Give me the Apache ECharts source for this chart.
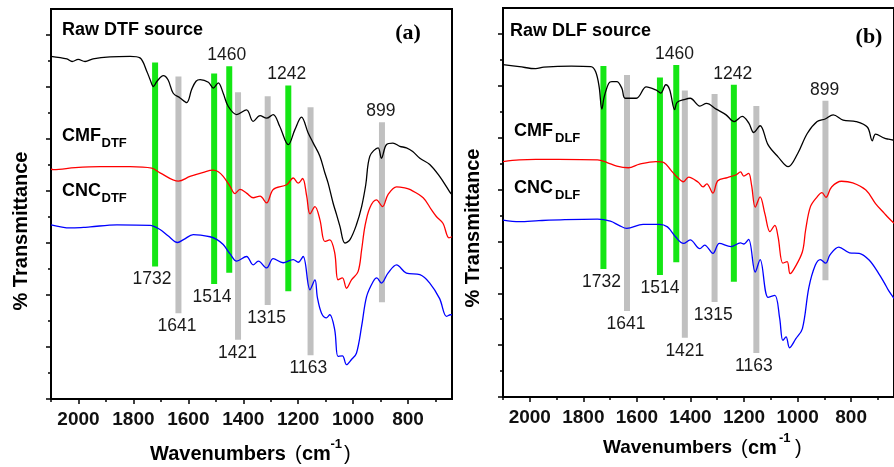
<!DOCTYPE html>
<html>
<head>
<meta charset="utf-8">
<script src="https://cdn.jsdelivr.net/npm/echarts@6/dist/echarts.min.js"></script>
<style>
  html, body { margin: 0; padding: 0; background: #fff; }
  #chart { width: 894px; height: 467px; }
</style>
</head>
<body>
<div id="chart"></div>
<script>
// axis ticks (wavenumber, cm-1) and transmittance ticks (arbitrary units)
const xMajor = [2000, 1800, 1600, 1400, 1200, 1000, 800]
const xMinor = [2100, 1900, 1700, 1500, 1300, 1100, 900, 700]
const yMajor = [0, 1, 2, 3, 4, 5, 6, 7]
const yMinor = [0.5, 1.5, 2.5, 3.5, 4.5, 5.5, 6.5]

// panel (a) - DTF
const rawDtfWn = [2100, 2042, 2023, 2001, 1976, 1947, 1885, 1812, 1776, 1751, 1739, 1727, 1714, 1691, 1674, 1655, 1630, 1606, 1588, 1572, 1557, 1527, 1509, 1491, 1473, 1455, 1424, 1388, 1364, 1339, 1315, 1291, 1267, 1236, 1212, 1188, 1164, 1145, 1121, 1103, 1091, 1073, 1060, 1048, 1030, 1012, 988, 969, 954, 939, 909, 897, 879, 855, 830, 806, 783, 757, 721, 685, 649, 640]
const rawDtfT = [6.59, 6.54, 6.49, 6.53, 6.49, 6.54, 6.58, 6.59, 6.56, 6.30, 6.14, 6.01, 6.11, 6.22, 6.14, 5.88, 5.79, 5.70, 5.95, 6.11, 6.14, 6.09, 5.98, 6.08, 5.88, 5.63, 5.47, 5.56, 5.34, 5.45, 5.40, 5.47, 5.24, 4.89, 5.18, 5.42, 5.12, 4.92, 4.67, 4.35, 4.15, 3.77, 3.54, 3.32, 3.00, 3.06, 3.35, 3.70, 4.12, 4.67, 4.83, 4.63, 4.89, 4.92, 4.86, 4.83, 4.76, 4.63, 4.51, 4.28, 3.99, 3.93]

const cmfDtfWn = [2100, 2091, 2012, 1921, 1812, 1733, 1703, 1636, 1594, 1545, 1510, 1491, 1473, 1448, 1430, 1412, 1388, 1364, 1339, 1315, 1291, 1242, 1218, 1200, 1184, 1169, 1157, 1139, 1121, 1103, 1085, 1067, 1055, 1039, 1024, 1006, 982, 969, 957, 939, 915, 893, 873, 842, 812, 794, 745, 715, 697, 673, 651, 640]
const cmfDtfT = [4.42, 4.41, 4.45, 4.47, 4.47, 4.44, 4.35, 4.19, 4.28, 4.36, 4.40, 4.37, 4.28, 4.09, 3.95, 4.03, 3.96, 3.87, 3.90, 3.77, 4.03, 4.12, 4.25, 4.15, 4.24, 3.90, 3.56, 3.70, 3.45, 3.03, 3.06, 2.81, 2.29, 2.33, 2.13, 2.29, 2.45, 2.87, 3.32, 3.68, 3.83, 3.70, 3.93, 4.08, 4.06, 4.03, 3.87, 3.64, 3.51, 3.38, 3.10, 3.12]

const cncDtfWn = [2100, 2030, 1982, 1957, 1860, 1739, 1703, 1674, 1639, 1616, 1582, 1521, 1497, 1473, 1448, 1424, 1388, 1364, 1345, 1315, 1291, 1255, 1218, 1200, 1182, 1157, 1139, 1130, 1115, 1097, 1085, 1067, 1055, 1039, 1024, 1006, 988, 969, 951, 927, 914, 897, 873, 842, 806, 757, 721, 685, 660, 645, 640]
const cncDtfT = [3.35, 3.29, 3.30, 3.31, 3.35, 3.34, 3.26, 3.14, 3.01, 3.07, 3.16, 3.12, 3.07, 2.97, 2.79, 2.65, 2.74, 2.58, 2.65, 2.52, 2.70, 2.62, 2.68, 2.63, 2.74, 2.10, 2.29, 1.95, 1.65, 1.56, 1.62, 1.33, 0.82, 0.83, 0.66, 0.76, 0.88, 1.40, 1.97, 2.26, 2.33, 2.23, 2.42, 2.58, 2.42, 2.39, 2.23, 1.93, 1.59, 1.62, 1.62]

// panel (b) - DLF
const rawDlfWn = [2100, 2039, 1978, 1948, 1845, 1772, 1754, 1741, 1731, 1722, 1705, 1693, 1675, 1656, 1644, 1602, 1565, 1529, 1511, 1492, 1478, 1459, 1450, 1420, 1401, 1365, 1340, 1304, 1267, 1237, 1207, 1182, 1164, 1140, 1110, 1073, 1035, 1000, 964, 927, 897, 867, 830, 782, 739, 721, 709, 676, 660, 640]
const rawDlfT = [6.41, 6.37, 6.33, 6.36, 6.38, 6.37, 6.27, 5.98, 5.55, 5.79, 6.05, 6.08, 6.08, 5.95, 5.76, 5.76, 5.98, 5.92, 5.86, 6.02, 5.93, 5.54, 5.68, 5.74, 5.76, 5.61, 5.66, 5.55, 5.44, 5.31, 5.41, 5.28, 5.10, 5.23, 4.86, 4.63, 4.44, 4.69, 5.08, 5.31, 5.36, 5.44, 5.34, 5.31, 5.20, 4.94, 5.07, 4.99, 4.97, 4.95]

const cmfDlfWn = [2100, 2039, 1978, 1893, 1747, 1711, 1675, 1632, 1590, 1529, 1499, 1474, 1450, 1426, 1407, 1371, 1353, 1339, 1316, 1298, 1262, 1231, 1213, 1201, 1183, 1172, 1158, 1140, 1122, 1103, 1085, 1073, 1055, 1039, 1028, 1012, 982, 970, 952, 927, 909, 894, 873, 836, 794, 745, 709, 676, 660, 640]
const cmfDlfT = [4.54, 4.57, 4.58, 4.58, 4.57, 4.52, 4.45, 4.42, 4.49, 4.54, 4.52, 4.38, 4.24, 4.15, 4.24, 4.14, 4.05, 4.11, 3.93, 4.17, 4.23, 4.28, 4.34, 4.26, 4.31, 4.09, 3.66, 3.86, 3.53, 3.19, 3.31, 3.09, 2.58, 2.61, 2.38, 2.48, 2.80, 3.22, 3.67, 3.86, 3.94, 3.85, 4.05, 4.16, 4.13, 3.99, 3.73, 3.54, 3.45, 3.35]

const cncDlfWn = [2100, 2039, 1966, 1869, 1747, 1699, 1667, 1638, 1577, 1517, 1486, 1456, 1426, 1401, 1365, 1347, 1316, 1292, 1249, 1213, 1201, 1183, 1158, 1140, 1110, 1085, 1067, 1055, 1043, 1030, 1007, 982, 958, 934, 915, 895, 879, 846, 806, 770, 733, 697, 676, 660, 640]
const cncDlfT = [3.41, 3.38, 3.40, 3.42, 3.43, 3.39, 3.31, 3.25, 3.33, 3.33, 3.28, 3.09, 2.96, 3.03, 2.86, 2.93, 2.77, 2.96, 2.90, 2.97, 2.95, 3.04, 2.41, 2.65, 1.92, 1.96, 1.52, 1.09, 1.16, 0.95, 1.12, 1.32, 2.11, 2.54, 2.65, 2.58, 2.74, 2.89, 2.78, 2.77, 2.64, 2.38, 2.20, 2.05, 1.90]

// marked bands: nominal label, drawn position, top and bottom of each bar
const peakLabels = [1732, 1641, 1514, 1460, 1421, 1315, 1242, 1163, 899]
const greenPeaks = [1732, 1514, 1460, 1242]
const labelAbove = [1460, 1242, 899]
const peakPosA = [1721, 1636, 1506, 1451, 1419, 1311, 1236, 1155, 895]
const peakTopA = [6.47, 6.20, 6.26, 6.40, 5.90, 5.82, 6.03, 5.61, 5.32]
const peakBotA = [2.55, 1.65, 2.21, 2.43, 1.14, 1.81, 2.07, 0.84, 1.86]
const peakPosB = [1725, 1637, 1514, 1453, 1421, 1310, 1238, 1154, 896]
const peakTopB = [6.38, 6.21, 6.16, 6.40, 5.91, 5.84, 6.02, 5.61, 5.71]
const peakBotB = [2.47, 1.66, 2.35, 2.60, 1.14, 1.83, 2.22, 0.85, 2.25]

const FONT = '"Liberation Sans", Arial, sans-serif'

const zip = (a, b) => a.map((v, i) => [v, b[i]])

function xAxes(grid) {
  const base = { type: 'value', gridIndex: grid, min: 640, max: 2100, inverse: true, position: 'bottom', splitLine: { show: false } }
  return [
    {
      ...base,
      axisLine: { show: true, onZero: false, lineStyle: { color: '#000', width: 2 } },
      axisTick: { show: true, customValues: xMajor, length: 5, lineStyle: { color: '#000', width: 1.5 } },
      axisLabel: {
        customValues: xMajor, margin: 11, color: '#111', fontWeight: 'bold', fontSize: 19, fontFamily: FONT,
        formatter: v => String(v)
      }
    },
    {
      ...base,
      axisLine: { show: false, onZero: false },
      axisTick: { show: true, customValues: xMinor, length: 3, lineStyle: { color: '#000', width: 1.5 } },
      axisLabel: { show: false }
    }
  ]
}

function yAxes(grid) {
  const base = { type: 'value', gridIndex: grid, min: 0, max: 7.5, position: 'left', splitLine: { show: false } }
  return [
    {
      ...base,
      axisLine: { show: true, onZero: false, lineStyle: { color: '#000', width: 2 } },
      axisTick: { show: true, customValues: yMajor, length: 5, lineStyle: { color: '#000', width: 1.5 } },
      axisLabel: { show: false }
    },
    {
      ...base,
      axisLine: { show: false, onZero: false },
      axisTick: { show: true, customValues: yMinor, length: 3, lineStyle: { color: '#000', width: 1.5 } },
      axisLabel: { show: false }
    }
  ]
}

function peakRenderer(params, api) {
  const nominal = peakLabels[params.dataIndex]
  const top = api.coord([api.value(0), api.value(1)])
  const bot = api.coord([api.value(0), api.value(2)])
  const lx = api.coord([nominal, 0])[0]
  const green = greenPeaks.includes(nominal)
  const above = labelAbove.includes(nominal)
  return {
    type: 'group',
    children: [
      {
        type: 'rect',
        shape: { x: top[0] - 3, y: top[1], width: 6, height: bot[1] - top[1] },
        style: { fill: green ? '#14e614' : '#c0c0c0' }
      },
      {
        type: 'text',
        x: lx,
        y: above ? top[1] - 2 : bot[1] + 4,
        style: {
          text: String(nominal),
          textAlign: 'center',
          textVerticalAlign: above ? 'bottom' : 'top',
          font: '17.5px ' + FONT,
          fill: '#1a1a1a'
        }
      }
    ]
  }
}

function line(data, color, xi, yi) {
  return {
    type: 'line', data, xAxisIndex: xi, yAxisIndex: yi, z: 3,
    showSymbol: false, smooth: 0.35, silent: true,
    lineStyle: { color, width: 1.3 }
  }
}

function peaks(pos, top, bot, xi, yi) {
  return {
    type: 'custom', xAxisIndex: xi, yAxisIndex: yi, z: 1, silent: true,
    renderItem: peakRenderer,
    data: pos.map((p, i) => [p, top[i], bot[i]])
  }
}

function txt(x, y, text, font, extra) {
  return {
    type: 'text', x, y, silent: true, ...(extra || {}),
    style: { text, font, fill: '#000', textAlign: 'left', textVerticalAlign: 'middle', ...((extra && extra.style) || {}) }
  }
}

const B18 = 'bold 18px ' + FONT
const B13 = 'bold 13px ' + FONT
const B20 = 'bold 20px ' + FONT
const R20 = '20px ' + FONT
const SERIF = 'bold 22px "Liberation Serif", "Times New Roman", serif'

const chart = echarts.init(document.getElementById('chart'))

const option = {
  animation: false,
  backgroundColor: '#fff',
  grid: [
    { left: 51, top: 9, width: 401, height: 390, show: true, borderColor: '#000', borderWidth: 2 },
    { left: 503, top: 8, width: 401, height: 389, show: true, borderColor: '#000', borderWidth: 2 }
  ],
  xAxis: [...xAxes(0), ...xAxes(1)],
  yAxis: [...yAxes(0), ...yAxes(1)],
  series: [
    peaks(peakPosA, peakTopA, peakBotA, 0, 0),
    line(zip(rawDtfWn, rawDtfT), '#000000', 0, 0),
    line(zip(cmfDtfWn, cmfDtfT), '#ff0000', 0, 0),
    line(zip(cncDtfWn, cncDtfT), '#0000ff', 0, 0),
    peaks(peakPosB, peakTopB, peakBotB, 2, 2),
    line(zip(rawDlfWn, rawDlfT), '#000000', 2, 2),
    line(zip(cmfDlfWn, cmfDlfT), '#ff0000', 2, 2),
    line(zip(cncDlfWn, cncDlfT), '#0000ff', 2, 2)
  ],
  graphic: [
    // panel (a)
    txt(62, 30, 'Raw DTF source', B18),
    txt(408, 33, '(a)', SERIF, { style: { textAlign: 'center' } }),
    txt(62, 136, 'CMF', B18),
    txt(101.5, 143, 'DTF', B13),
    txt(62, 191, 'CNC', B18),
    txt(101.5, 198, 'DTF', B13),
    txt(21, 231, '% Transmittance', B20, { rotation: Math.PI / 2, style: { textAlign: 'center' } }),
    txt(150, 454, 'Wavenumbers', B20),
    txt(295, 454, '(', R20),
    txt(302, 454, 'cm', B20),
    txt(330.5, 444, '-1', B13),
    txt(344, 454, ')', R20),
    // panel (b)
    txt(510, 31, 'Raw DLF source', B18),
    txt(869, 37, '(b)', SERIF, { style: { textAlign: 'center' } }),
    txt(514, 131.5, 'CMF', B18),
    txt(555, 138.5, 'DLF', B13),
    txt(514, 188.5, 'CNC', B18),
    txt(555, 195.5, 'DLF', B13),
    txt(473.5, 228, '% Transmittance', B20, { rotation: Math.PI / 2, style: { textAlign: 'center' } }),
    txt(603, 448, 'Wavenumbers', 'bold 19px ' + FONT),
    txt(741, 448, '(', R20),
    txt(748, 448, 'cm', B20),
    txt(779, 438, '-1', B13),
    txt(795, 448, ')', R20)
  ]
}

chart.setOption(option)
</script>
</body>
</html>
